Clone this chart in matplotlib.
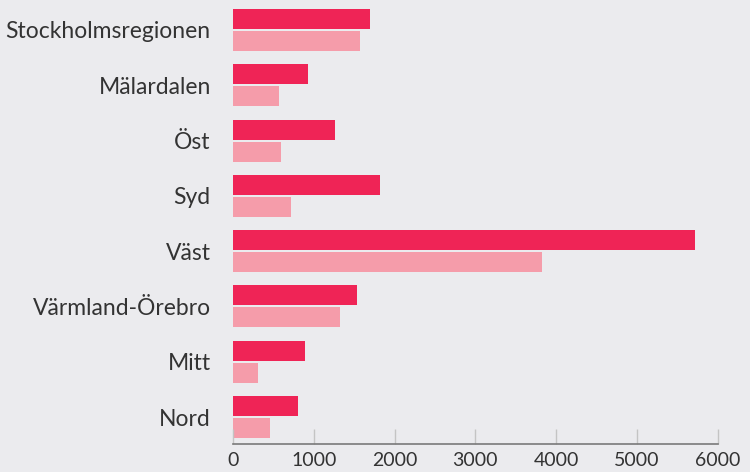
import numpy as np
import matplotlib
matplotlib.use("Agg")
import matplotlib.pyplot as plt

regions = ["Stockholmsregionen", "Mälardalen", "Öst", "Syd", "Väst",
           "Värmland-Örebro", "Mitt", "Nord"]
series_a = [1700, 930, 1265, 1820, 5725, 1535, 890, 805]
series_b = [1575, 570, 595, 720, 3830, 1325, 310, 460]
xticks = [0, 1000, 2000, 3000, 4000, 5000, 6000]

bg = "#ebebee"
plt.rcParams["font.family"] = ["Lato", "DejaVu Sans"]

fig = plt.figure(figsize=(7.5, 4.72), dpi=100, facecolor=bg)
ax = fig.add_axes([233/750, 28/472, (717.7-233)/750, 444/472])
ax.set_facecolor(bg)

y = np.arange(len(regions))
h = 20/55.3
off = 11/55.3
ax.barh(y - off, series_a, height=h, color="#ef2456")
ax.barh(y + off, series_b, height=h, color="#f59caa")

ax.set_xlim(0, 6000)
ax.set_ylim(7 + 27/55.3, -30/55.3)
ax.set_yticks(y)
ax.set_yticklabels(regions, fontsize=16.5, color="#333333")
ax.set_xticks(xticks)
ax.set_xticklabels([str(t) for t in xticks], fontsize=14, color="#333333")
ax.tick_params(axis="y", length=0, pad=16)
ax.tick_params(axis="x", direction="in", length=11, width=1, color="#c4c4c4", pad=6)
for s in ["top", "right", "left"]:
    ax.spines[s].set_visible(False)
ax.spines["bottom"].set_color("#7a7a7a")
ax.spines["bottom"].set_linewidth(1.2)

fig.savefig("out.png", dpi=100, facecolor=bg)
